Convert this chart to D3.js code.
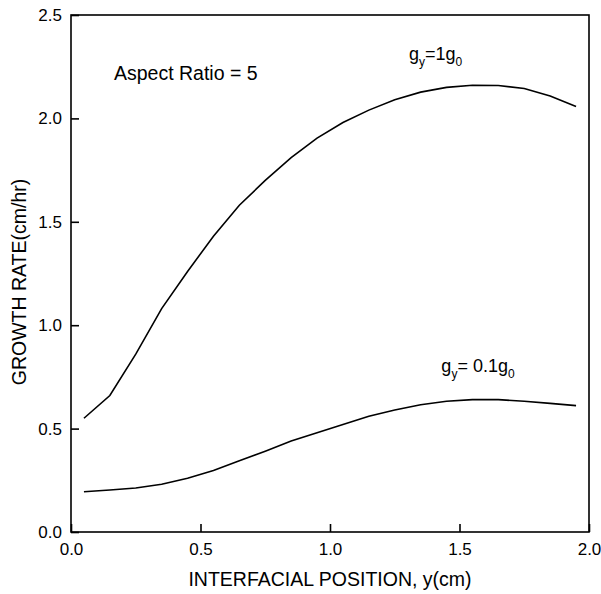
<!DOCTYPE html>
<html>
<head>
<meta charset="utf-8">
<script src="https://cdn.jsdelivr.net/npm/d3@7"></script>
<style>
  body { margin: 0; background: #fff; }
  text { font-family: Arial, "Liberation Sans", sans-serif; fill: #000; }
</style>
</head>
<body>
<svg id="chart" width="601" height="594"></svg>
<script>
// positions along the interface (cm)
var positions = [0.05, 0.15, 0.25, 0.35, 0.45, 0.55, 0.65, 0.75, 0.85, 0.95,
                 1.05, 1.15, 1.25, 1.35, 1.45, 1.55, 1.65, 1.75, 1.85, 1.95];
// growth rate, gy = 1 g0
var rateG1 = [0.55, 0.66, 0.86, 1.08, 1.26, 1.43, 1.58, 1.70, 1.81, 1.905,
              1.98, 2.04, 2.09, 2.127, 2.15, 2.16, 2.159, 2.145, 2.108, 2.057];
// growth rate, gy = 0.1 g0
var rateG01 = [0.195, 0.203, 0.213, 0.231, 0.26, 0.297, 0.344, 0.391, 0.44, 0.48,
               0.52, 0.56, 0.59, 0.615, 0.632, 0.64, 0.64, 0.632, 0.622, 0.611];
var xTicks = [0, 0.5, 1.0, 1.5, 2.0];
var yTicks = [0, 0.5, 1.0, 1.5, 2.0, 2.5];

var dimensions = {
  width: 601,
  height: 594,
  margin: { top: 15, bottom: 62, right: 12, left: 71 }
}

var svg = d3.select("#chart")
var plotW = dimensions.width - dimensions.margin.left - dimensions.margin.right
var plotH = dimensions.height - dimensions.margin.top - dimensions.margin.bottom

var x = d3.scaleLinear().domain([0, 2]).range([0, plotW])
var y = d3.scaleLinear().domain([0, 2.5]).range([plotH, 0])

var g = svg.append("g")
  .attr("transform", `translate(${dimensions.margin.left},${dimensions.margin.top})`)

// frame
g.append("rect")
  .attr("width", plotW)
  .attr("height", plotH)
  .attr("fill", "none")
  .attr("stroke", "black")
  .attr("stroke-width", 1.6)

var xAxis = g.append("g")
  .attr("transform", `translate(0,${plotH})`)
  .call(d3.axisBottom(x).tickValues(xTicks).tickFormat(d3.format(".1f"))
        .tickSizeInner(-8).tickSizeOuter(0).tickPadding(11))
xAxis.select(".domain").remove()
xAxis.selectAll("line").attr("stroke-width", 1.6)
xAxis.selectAll("text").style("font-size", "17px").style("font-family", "Arial, 'Liberation Sans', sans-serif")

var yAxis = g.append("g")
  .call(d3.axisLeft(y).tickValues(yTicks).tickFormat(d3.format(".1f"))
        .tickSizeInner(-8).tickSizeOuter(0).tickPadding(9))
yAxis.select(".domain").remove()
yAxis.selectAll("line").attr("stroke-width", 1.6)
yAxis.selectAll("text").style("font-size", "17px").style("font-family", "Arial, 'Liberation Sans', sans-serif")

var line = d3.line()
  .x(function(d) { return x(d[0]) })
  .y(function(d) { return y(d[1]) })

var series = [rateG1, rateG01]
series.forEach(function(vals) {
  g.append("path")
    .datum(positions.map(function(p, i) { return [p, vals[i]] }))
    .attr("d", line)
    .attr("fill", "none")
    .attr("stroke", "black")
    .attr("stroke-width", 1.6)
})

// annotations
g.append("text")
  .attr("x", x(0.166))
  .attr("y", y(2.186))
  .style("font-size", "19.5px")
  .text("Aspect Ratio = 5")

function gLabel(px, py, main) {
  var t = g.append("text").attr("x", px).attr("y", py).style("font-size", "18px")
  t.append("tspan").text("g")
  t.append("tspan").attr("dy", 6).style("font-size", "12px").text("y")
  t.append("tspan").attr("dy", -6).text(main)
  t.append("tspan").attr("dy", 6).style("font-size", "12px").text("0")
}
gLabel(x(1.305), y(2.28), "=1g")
gLabel(x(1.43), y(0.775), "= 0.1g")

// axis titles
svg.append("text")
  .attr("x", dimensions.margin.left + plotW / 2)
  .attr("y", 586)
  .attr("text-anchor", "middle")
  .style("font-size", "19.5px")
  .text("INTERFACIAL POSITION, y(cm)")

svg.append("text")
  .attr("transform", "translate(26,282) rotate(-90)")
  .attr("text-anchor", "middle")
  .style("font-size", "19.5px")
  .text("GROWTH RATE(cm/hr)")
</script>
</body>
</html>
